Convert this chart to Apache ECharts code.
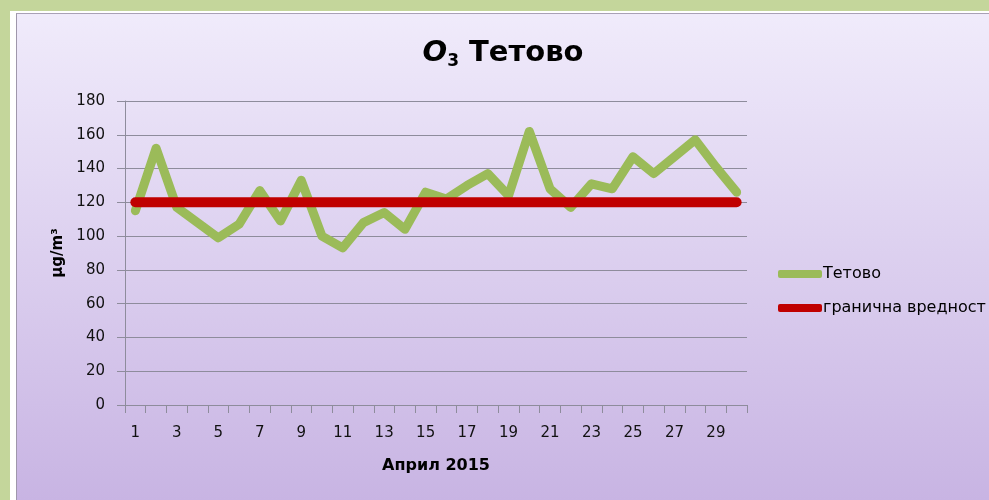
<!DOCTYPE html>
<html>
<head>
<meta charset="utf-8">
<script src="https://cdn.jsdelivr.net/npm/echarts@6/dist/echarts.min.js"></script>
<style>
  html, body { margin: 0; padding: 0; }
  body { width: 989px; height: 500px; background: #c4d69b; position: relative; overflow: hidden; }
  #frame { position: absolute; left: 10px; top: 11px; width: 979px; height: 489px; background: #ffffff; }
  #wrap { position: absolute; left: 6px; top: 2px; border-left: 1px solid #9f97ab; border-top: 1px solid #a9a1b5; }
  #chart { width: 972px; height: 486px; }
</style>
</head>
<body>
<div id="frame"><div id="wrap"><div id="chart"></div></div></div>
<script>
// дни во април 2015
const days = ["1","2","3","4","5","6","7","8","9","10","11","12","13","14","15",
              "16","17","18","19","20","21","22","23","24","25","26","27","28","29","30"];
// O3 Тетово, µg/m3
const tetovo = [115, 152, 117, 108, 99, 107, 127, 109, 133, 100, 93, 108, 114, 104, 126,
                122, 130, 137, 124, 162, 128, 117, 131, 128, 147, 137, 147, 157, 141, 126];
// гранична вредност
const limit = [120, 120, 120, 120, 120, 120, 120, 120, 120, 120, 120, 120, 120, 120, 120,
               120, 120, 120, 120, 120, 120, 120, 120, 120, 120, 120, 120, 120, 120, 120];

const font = "DejaVu Sans";
const gridColor = "#8e8c9c";

const myChart = echarts.init(document.getElementById("chart"));

myChart.setOption({
  backgroundColor: {
    type: "linear", x: 0, y: 0, x2: 0, y2: 1,
    colorStops: [
      { offset: 0, color: "#f0ebfb" },
      { offset: 1, color: "#c8b4e3" },
    ],
  },
  textStyle: { fontFamily: font },
  title: {
    left: "center",
    top: 18,
    text: "{o|O}{s|3}{t| Тетово}",
    textStyle: {
      rich: {
        o: { fontFamily: font, fontSize: 29, fontWeight: "bold", fontStyle: "italic", color: "#000" },
        s: { fontFamily: font, fontSize: 17, fontWeight: "bold", color: "#000", padding: [16, 0, 0, 0] },
        t: { fontFamily: font, fontSize: 29, fontWeight: "bold", color: "#000" },
      },
    },
  },
  legend: {
    orient: "vertical",
    left: 756,
    top: 247,
    itemGap: 18,
    itemWidth: 44,
    itemHeight: 8,
    icon: "roundRect",
    textStyle: { fontFamily: font, fontSize: 16, color: "#000", padding: [0, 0, 0, -4] },
    data: ["Тетово", "гранична вредност"],
  },
  grid: { left: 108, top: 87, right: 242, bottom: 95 },
  xAxis: {
    type: "category",
    data: days,
    boundaryGap: true,
    name: "Април 2015",
    nameLocation: "middle",
    nameGap: 53,
    nameTextStyle: { fontFamily: font, fontSize: 16, fontWeight: "bold", color: "#000" },
    axisLine: { lineStyle: { color: gridColor } },
    axisTick: { show: true, interval: 0, length: 8, lineStyle: { color: gridColor } },
    axisLabel: { interval: 1, margin: 21, fontSize: 15, color: "#111" },
  },
  yAxis: {
    type: "value",
    min: 0,
    max: 180,
    interval: 20,
    name: "μg/m³",
    nameLocation: "middle",
    nameGap: 59,
    nameRotate: 90,
    nameTextStyle: { fontFamily: font, fontSize: 15, fontWeight: "bold", color: "#000" },
    axisLine: { show: true, lineStyle: { color: gridColor } },
    axisTick: { show: true, length: 8, lineStyle: { color: gridColor } },
    axisLabel: { margin: 20, fontSize: 15, color: "#111" },
    splitLine: { lineStyle: { color: gridColor } },
  },
  series: [
    {
      name: "Тетово",
      type: "line",
      data: tetovo,
      showSymbol: false,
      symbol: "none",
      color: "#9bbb59",
      lineStyle: { width: 9, color: "#9bbb59", cap: "round", join: "round" },
      z: 3,
    },
    {
      name: "гранична вредност",
      type: "line",
      data: limit,
      showSymbol: false,
      symbol: "none",
      color: "#c00000",
      lineStyle: { width: 10, color: "#c00000", cap: "round", join: "round" },
      z: 4,
    },
  ],
});
</script>
</body>
</html>
